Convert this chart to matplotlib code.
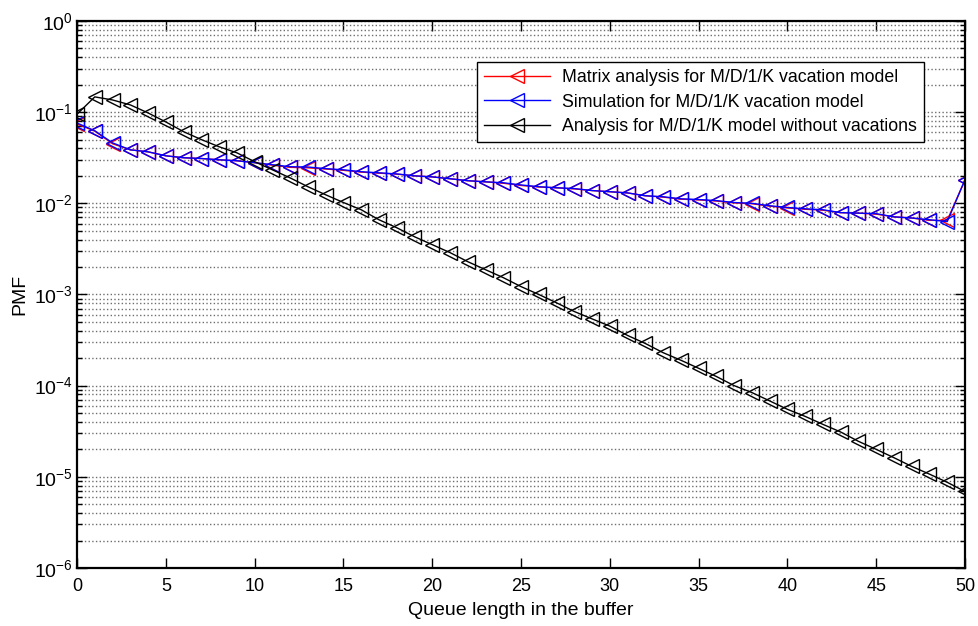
import numpy as np
import matplotlib
matplotlib.use("Agg")
import matplotlib.pyplot as plt
from matplotlib.ticker import FixedLocator, NullFormatter

plt.rcParams['font.family'] = ['Liberation Sans', 'DejaVu Sans']
plt.rcParams['mathtext.fontset'] = 'custom'
plt.rcParams['mathtext.rm'] = 'Liberation Sans'
plt.rcParams['mathtext.default'] = 'regular'

queue_len = list(range(0, 51))

matrix_vacation = [0.074, 0.062, 0.045, 0.0386, 0.0367, 0.0332, 0.0316, 0.031, 0.030, 0.0293,
                   0.0279, 0.0262, 0.0248, 0.0245, 0.0238, 0.0230, 0.0220, 0.0214, 0.0209, 0.0200,
                   0.0195, 0.0186, 0.0177, 0.0172, 0.0166, 0.0157, 0.0151, 0.0148, 0.0144, 0.0138,
                   0.0134, 0.0130, 0.0121, 0.0117, 0.0111, 0.0109, 0.0106, 0.0101, 0.0099, 0.0093,
                   0.0089, 0.0086, 0.0084, 0.0079, 0.0078, 0.0076, 0.0071, 0.0069, 0.0065, 0.0065,
                   0.0180]

simulation_vacation = [0.076, 0.0624, 0.046, 0.0386, 0.0367, 0.0332, 0.0316, 0.031, 0.030, 0.0293,
                       0.0279, 0.0265, 0.0252, 0.0250, 0.0240, 0.0233, 0.0222, 0.0216, 0.0210, 0.0200,
                       0.0195, 0.0186, 0.0177, 0.0172, 0.0168, 0.0159, 0.0152, 0.0148, 0.0145, 0.0138,
                       0.0134, 0.0130, 0.0121, 0.0118, 0.0112, 0.0110, 0.0107, 0.0102, 0.0100, 0.0094,
                       0.0090, 0.0087, 0.0085, 0.0079, 0.0078, 0.0077, 0.0071, 0.0069, 0.0066, 0.0063,
                       0.0182]

no_vacation = [0.095, 0.147, 0.136, 0.120, 0.098, 0.078, 0.061, 0.050, 0.0417, 0.0358,
               0.0286, 0.0233, 0.0190, 0.0152, 0.0124, 0.0102, 0.0085, 0.0066, 0.0054, 0.0043,
               0.00352, 0.00288, 0.00229, 0.00187, 0.00153, 0.00122, 0.00100, 8.1e-4, 6.5e-4, 5.4e-4,
               4.5e-4, 3.55e-4, 2.9e-4, 2.3e-4, 1.9e-4, 1.55e-4, 1.26e-4, 1.0e-4, 8.4e-5, 6.8e-5,
               5.5e-5, 4.6e-5, 3.76e-5, 3.1e-5, 2.45e-5, 2.0e-5, 1.62e-5, 1.3e-5, 1.07e-5, 8.7e-6,
               6.9e-6]

x_ticks = [0, 5, 10, 15, 20, 25, 30, 35, 40, 45, 50]
y_decades = [-6, -5, -4, -3, -2, -1, 0]

legend_labels = ["Matrix analysis for M/D/1/K vacation model",
                 "Simulation for M/D/1/K vacation model",
                 "Analysis for M/D/1/K model without vacations"]

fig = plt.figure(figsize=(9.79, 6.26), dpi=100)
ax = fig.add_axes([0.0787, 0.0927, 0.907, 0.8738])

mk = dict(marker='<', markersize=10, markerfacecolor='none', linewidth=1.0, markeredgewidth=1.0)
ax.plot(queue_len, matrix_vacation, color='red', label=legend_labels[0], **mk)
ax.plot(queue_len, simulation_vacation, color='blue', label=legend_labels[1], **mk)
ax.plot(queue_len, no_vacation, color='black', label=legend_labels[2], **mk)

ax.set_yscale('log')
ax.set_ylim(1e-6, 1)
ax.set_xlim(0, 50)
ax.set_xticks(x_ticks)
major_y = [10.0 ** d for d in y_decades]
minor_y = [m * 10.0 ** d for d in y_decades[:-1] for m in range(2, 10)]
ax.yaxis.set_major_locator(FixedLocator(major_y))
ax.yaxis.set_major_formatter(matplotlib.ticker.FixedFormatter(
    [r'$10^{%d}$' % d for d in y_decades]))
ax.yaxis.set_minor_locator(FixedLocator(minor_y))
ax.yaxis.set_minor_formatter(NullFormatter())

ax.grid(True, which='both', axis='y', color='#6e6e6e', linestyle=':', linewidth=1.0)
ax.tick_params(axis='both', which='both', direction='in', top=True, right=True)
ax.tick_params(axis='x', labelsize=13, pad=7)
ax.tick_params(axis='y', labelsize=14, pad=3)
ax.tick_params(axis='both', which='major', length=7, width=1)
ax.tick_params(axis='both', which='minor', length=3.5, width=1)
for s in ax.spines.values():
    s.set_linewidth(1.6)

ax.set_xlabel("Queue length in the buffer", fontsize=14, labelpad=5)
ax.set_ylabel("PMF", fontsize=14, labelpad=4)

leg = ax.legend(loc='upper right', bbox_to_anchor=(0.954, 0.925), borderaxespad=0,
                fancybox=False, edgecolor='black', framealpha=1, fontsize=12.8,
                handlelength=3.7, handletextpad=0.7, labelspacing=0.42, borderpad=0.4)
leg.get_frame().set_linewidth(1.0)

fig.savefig("out.png", dpi=100)
